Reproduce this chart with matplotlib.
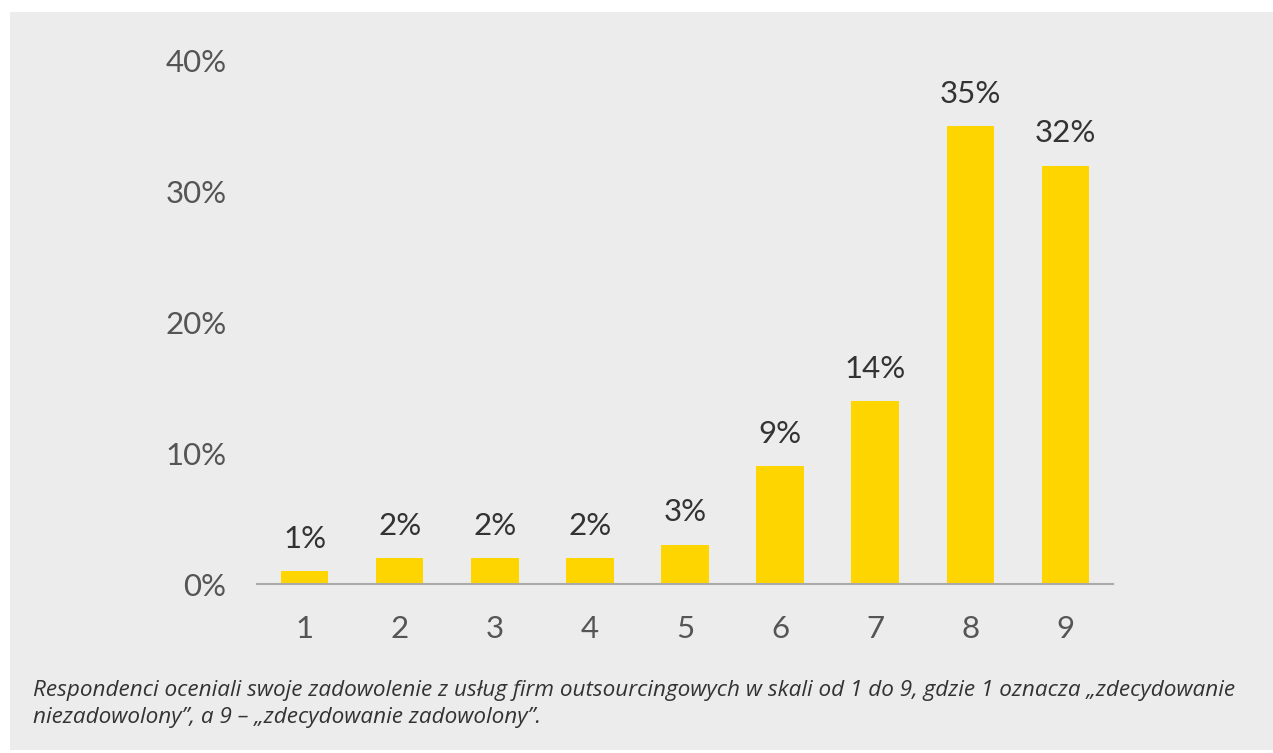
import matplotlib.pyplot as plt
from matplotlib.ticker import FuncFormatter

# dane z wykresu
oceny = ['1', '2', '3', '4', '5', '6', '7', '8', '9']
udzialy = [1, 2, 2, 2, 3, 9, 14, 35, 32]
y_ticks = [0, 10, 20, 30, 40]
podpis = ('Respondenci oceniali swoje zadowolenie z usług firm outsourcingowych w skali od 1 do 9, '
          'gdzie 1 oznacza „zdecydowanie\nniezadowolony”, a 9 – „zdecydowanie zadowolony”.')

bg = '#ececec'
plt.rcParams['font.family'] = ['Lato', 'DejaVu Sans']

fig = plt.figure(figsize=(12.73, 7.53), dpi=100)
fig.patch.set_facecolor('white')
# szare tło panelu
fig.patches.append(plt.Rectangle((10 / 1273, 3 / 753), 1, 738 / 753, transform=fig.transFigure,
                                 facecolor=bg, edgecolor='none', zorder=-1))

ax = fig.add_axes([257 / 1273, (753 - 584) / 753, 856 / 1273, 523 / 753])
ax.set_facecolor(bg)
x = range(1, len(oceny) + 1)
bars = ax.bar(x, udzialy, width=0.5, color='#FFD500')

for b, v in zip(bars, udzialy):
    ax.text(b.get_x() + b.get_width() / 2, v + 1.4, f'{v}%', ha='center', va='bottom',
            fontsize=22.5, color='#333333', clip_on=False)

ax.set_xlim(0.5, 9.5)
ax.set_ylim(0, 40)
ax.set_xticks(list(x))
ax.set_xticklabels(oceny)
ax.set_yticks(y_ticks)
ax.yaxis.set_major_formatter(FuncFormatter(lambda v, p: f'{v:.0f}%'))
ax.tick_params(axis='both', length=0, labelsize=22.5, labelcolor='#555555')
ax.tick_params(axis='x', pad=22)
ax.tick_params(axis='y', pad=22)
for s in ['top', 'right', 'left']:
    ax.spines[s].set_visible(False)
ax.spines['bottom'].set_color('#aaaaaa')
ax.spines['bottom'].set_linewidth(1.5)

fig.text(33 / 1273, (753 - 704) / 753, podpis, fontsize=16.2, style='italic', color='#333333',
         va='center', linespacing=1.42, family=['Open Sans', 'DejaVu Sans'])

fig.savefig('out.png', dpi=100, facecolor=fig.get_facecolor())
